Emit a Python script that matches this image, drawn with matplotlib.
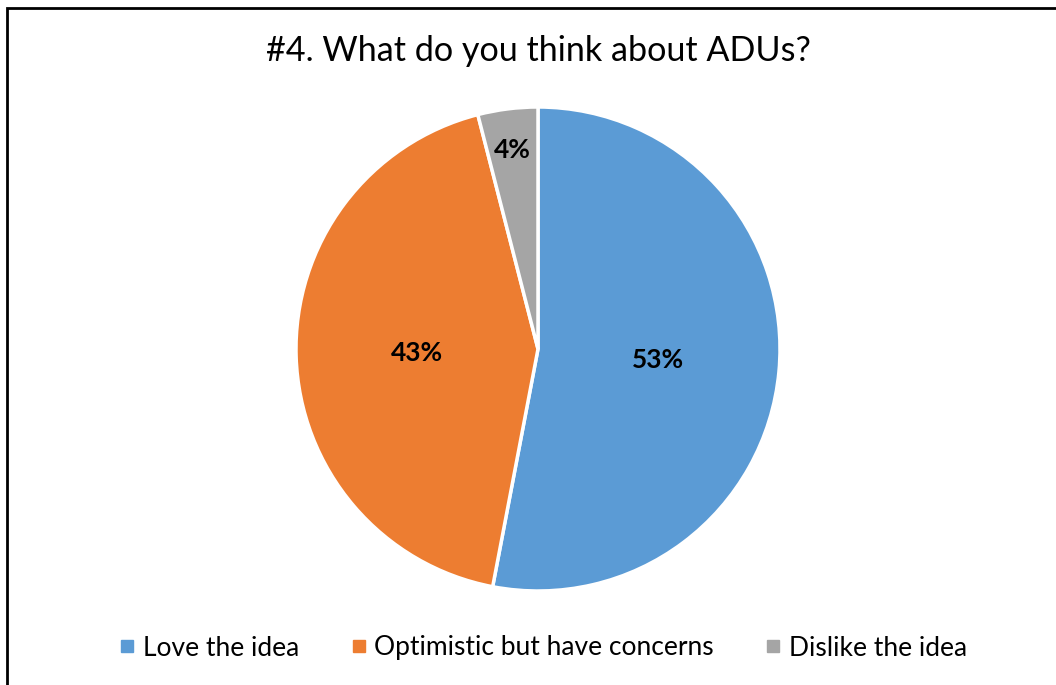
import numpy as np
import matplotlib
matplotlib.use("Agg")
from matplotlib import pyplot as plt
from matplotlib.lines import Line2D
from matplotlib.patches import Rectangle

# data
labels = ["Love the idea", "Optimistic but have concerns", "Dislike the idea"]
shares = [53, 43, 4]
colors = ["#5B9BD5", "#ED7D31", "#A5A5A5"]
title = "#4. What do you think about ADUs?"

plt.rcParams['font.family'] = ['Lato', 'DejaVu Sans']

W, H = 1056, 685
fig = plt.figure(figsize=(W / 100, H / 100), dpi=100)

# pie area: centre ~ (538, 349) px, radius ~242 px
cx, cy, r = 538, 349, 242
ax = fig.add_axes([(cx - r) / W, (H - cy - r) / H, 2 * r / W, 2 * r / H])

wedges, texts, autotexts = ax.pie(
    shares, colors=colors, startangle=90, counterclock=False,
    autopct=lambda p: f"{p:.0f}%", pctdistance=0.5,
    wedgeprops=dict(edgecolor="white", linewidth=2.5),
    textprops=dict(fontsize=19, fontweight="bold", color="black"),
)
# small slice label sits further out (Excel best fit)
w = wedges[2]
mid = np.deg2rad((w.theta1 + w.theta2) / 2)
autotexts[2].set_position((0.83 * np.cos(mid), 0.83 * np.sin(mid)))

ax.set_xlim(-1, 1)
ax.set_ylim(-1, 1)
ax.set_aspect("equal")
ax.axis("off")

fig.text(538 / W, 1 - 51 / H, title, ha="center", va="center", fontsize=24.6)

handles = [Line2D([0], [0], marker="s", linestyle="none", markersize=8.5,
                  markerfacecolor=c, markeredgecolor=c) for c in colors]
fig.legend(handles, labels, loc="center", bbox_to_anchor=(544 / W, 1 - 648 / H),
           ncol=3, frameon=False, fontsize=19, handlelength=0.5,
           handletextpad=0.35, columnspacing=2.0)

# outer chart border (cut at right/bottom like the reference)
fig.patches.append(Rectangle((7 / W, -0.05), 1.1, 1 - 8 / H + 0.05,
                             transform=fig.transFigure, fill=False,
                             edgecolor="black", linewidth=2))

fig.savefig("out.png", dpi=100)
